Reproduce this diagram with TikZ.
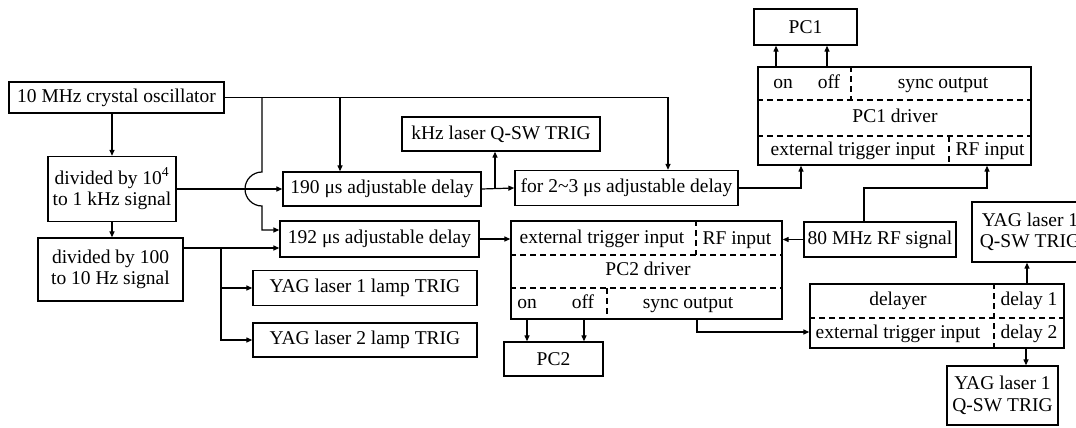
\documentclass[tikz,border=0pt]{standalone}
\usepackage{fontspec}
\setmainfont{Liberation Serif}
\usetikzlibrary{positioning,calc,arrows.meta}

\tikzset{
  blk/.style={draw, line width=1.3pt, inner sep=0pt, align=center},
  lbl/.style={inner sep=0pt, text height=13pt, text depth=4pt},
  arr/.style={line width=1.2pt, -{Triangle[length=6pt,width=5pt]}},
  dsh/.style={line width=1.2pt, dash pattern=on 6pt off 4pt},
}

\begin{document}
\begin{tikzpicture}[x=1pt, y=-1pt, font=\fontsize{19.5}{21.5}\selectfont]
    \useasboundingbox (0,0) rectangle (1076,428);
    \clip (0,0) rectangle (1076,428);

    % Oscillator and dividers
    \node[blk, minimum width=215pt, minimum height=31pt] (osc) at (116.5,97.5) {10 MHz crystal oscillator};
    \node[blk, minimum width=128pt, minimum height=65pt] (div4) at (112,189) {divided by 10\textsuperscript{4}\\to 1 kHz signal};
    \node[blk, minimum width=145pt, minimum height=63pt] (div100) at (110.5,269.5) {divided by 100\\to 10 Hz signal};

    % Delays and triggers
    \node[blk, minimum width=198pt, minimum height=34pt] (d190) at (382,189) {190 μs adjustable delay};
    \node[blk, minimum width=199pt, minimum height=36pt] (d192) at (379.5,239) {192 μs adjustable delay};
    \node[blk, minimum width=224pt, minimum height=35pt] (lamp1) at (365,288) {YAG laser 1 lamp TRIG};
    \node[blk, minimum width=224pt, minimum height=34pt] (lamp2) at (365,340) {YAG laser 2 lamp TRIG};
    \node[blk, minimum width=198pt, minimum height=34pt] (khz) at (501,134) {kHz laser Q-SW TRIG};
    \node[blk, minimum width=223pt, minimum height=35pt] (dl23) at (626.5,188) {for 2\textasciitilde3 μs adjustable delay};

    % PC1 driver
    \node[blk, minimum width=103pt, minimum height=36pt] (pc1) at (805.5,27) {PC1};
    \node[blk, minimum width=273pt, minimum height=98pt] (pc1drv) at (894.5,116) {};
    \draw[dsh] (pc1drv.west |- 0,100) -- (pc1drv.east |- 0,100);
    \draw[dsh] (pc1drv.west |- 0,136) -- (pc1drv.east |- 0,136);
    \draw[dsh] (pc1drv.north -| 851,0) -- (851,100);
    \draw[dsh] (949,136) -- (pc1drv.south -| 949,0);
    \node[lbl] (pc1on) at (783,84) {on};
    \node[lbl] (pc1off) at (829,84) {off};
    \node[lbl] (pc1sync) at (943,84) {sync output};
    \node[lbl] (pc1name) at (895,118) {PC1 driver};
    \node[lbl] (pc1ext) at (853,151) {external trigger input};
    \node[lbl] (pc1rf) at (990,151) {RF input};

    % PC2 driver
    \node[blk, minimum width=152pt, minimum height=35pt] (rf80) at (880,239.5) {80 MHz RF signal};
    \node[blk, minimum width=271pt, minimum height=98pt] (pc2drv) at (646.5,270) {};
    \draw[dsh] (pc2drv.west |- 0,255) -- (pc2drv.east |- 0,255);
    \draw[dsh] (pc2drv.west |- 0,288) -- (pc2drv.east |- 0,288);
    \draw[dsh] (pc2drv.north -| 696,0) -- (696,255);
    \draw[dsh] (607,288) -- (pc2drv.south -| 607,0);
    \node[lbl] (pc2ext) at (602,239) {external trigger input};
    \node[lbl] (pc2rf) at (737,240) {RF input};
    \node[lbl] (pc2name) at (648,271) {PC2 driver};
    \node[lbl] (pc2on) at (527,304) {on};
    \node[lbl] (pc2off) at (583,304) {off};
    \node[lbl] (pc2sync) at (688,304) {sync output};
    \node[blk, minimum width=99pt, minimum height=34pt] (pc2) at (553.5,359) {PC2};

    % Delayer
    \node[blk, minimum width=254pt, minimum height=64pt] (dlyr) at (937,316) {};
    \draw[dsh] (dlyr.west |- 0,318) -- (dlyr.east |- 0,318);
    \draw[dsh] (dlyr.north -| 994,0) -- (dlyr.south -| 994,0);
    \node[lbl] (dlyname) at (898,301) {delayer};
    \node[lbl] (dly1) at (1029,301) {delay 1};
    \node[lbl] (dlyext) at (898,334) {external trigger input};
    \node[lbl] (dly2) at (1029,334) {delay 2};
    \node[blk, minimum width=116pt, minimum height=60pt] (yagA) at (1030,232) {YAG laser 1\\Q-SW TRIG};
    \node[blk, minimum width=111pt, minimum height=59pt] (yagB) at (1002.5,395.5) {YAG laser 1\\Q-SW TRIG};

    % Connections
    \coordinate (jB) at (221,248);
    \draw[arr] (osc.east) -| (dl23.north -| 668,0);
    \draw[arr] (osc.east -| 340,0) -- (d190.north -| 340,0);
    \draw[arr] (osc.east -| 262,0) -- (262,172) arc[start angle=90, end angle=270, radius=17pt] |- ([yshift=9pt]d192.west);
    \draw[arr] (osc.south -| div4.north) -- (div4.north);
    \draw[arr] (div4.south) -- (div4.south |- div100.north);
    \draw[arr] (div4.east) -- (d190.west);
    \draw[arr] ([yshift=21.5pt]div100.east) -- ([yshift=-9pt]d192.west);
    \draw[arr] (jB) |- (lamp1.west);
    \draw[arr] (jB) |- (lamp2.west);
    \draw[arr] (d190.east) -- (dl23.west);
    \draw[arr] (d190.east -| 495,0) -- (khz.south -| 495,0);
    \draw[arr] (d192.east) -- (d192.east -| pc2drv.west);
    \draw[arr] (dl23.east) -| (pc1drv.south -| 801,0);
    \draw[arr] (rf80.north -| 864,0) -- (864,188) -| (pc1drv.south -| 987,0);
    \draw[arr] (rf80.west) -- (rf80.west -| pc2drv.east);
    \draw[arr] (pc1drv.north -| 776,0) -- (pc1.south -| 776,0);
    \draw[arr] (pc1drv.north -| 827,0) -- (pc1.south -| 827,0);
    \draw[arr] (pc2drv.south -| 527,0) -- (pc2.north -| 527,0);
    \draw[arr] (pc2drv.south -| 584,0) -- (pc2.north -| 584,0);
    \draw[arr] (pc2drv.south -| 697,0) |- ([yshift=-16pt]dlyr.west);
    \draw[arr] (dlyr.north -| 1027,0) -- (yagA.south -| 1027,0);
    \draw[arr] (dlyr.south -| 1026,0) -- (yagB.north -| 1026,0);
\end{tikzpicture}
\end{document}
